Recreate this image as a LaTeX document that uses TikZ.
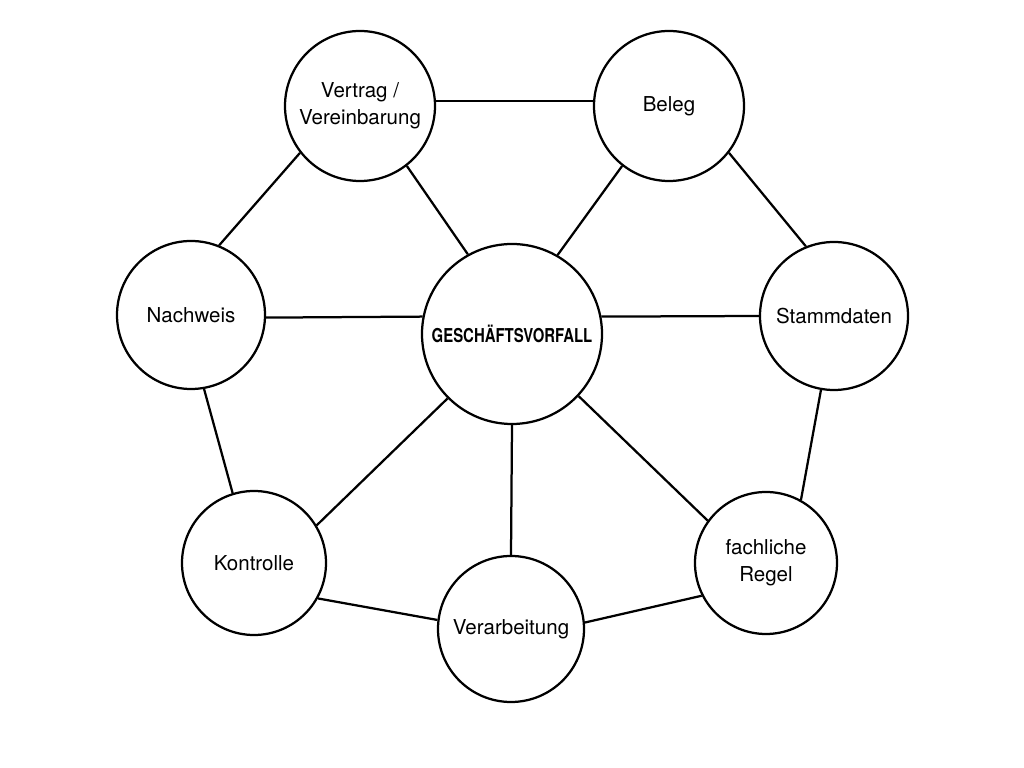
\documentclass[tikz,border=0pt]{standalone}
\usepackage{fontspec}
\setmainfont{TeX Gyre Heros}
\usepackage{tikz}
\tikzstyle{topic} = [circle, 
minimum size=3.7cm, 
inner sep=0pt,
line width=1.6pt,
text centered, 
align=center,
font=\fontsize{14.6}{19}\selectfont,
draw=black]
\tikzstyle{hub} = [topic, 
minimum size=4.5cm,
font=\fontsize{13.6}{15}\selectfont]
\tikzstyle{link} = [line width=1.6pt]

\begin{document}
\begin{tikzpicture}
			\useasboundingbox (0,0) rectangle (25.6,19.2);
			\node (hub)[hub] at (12.8,10.85) {\scalebox{0.78}[1]{\bfseries GESCHÄFTSVORFALL}};
			
			\node (vertrag)[topic, minimum size=3.75cm] at (9.0,16.55) {Vertrag /\\Vereinbarung};
			\node (beleg)[topic, minimum size=3.75cm] at (16.725,16.55) {Beleg};
			\node (nachweis)[topic] at (4.775,11.325) {Nachweis};
			\node (stamm)[topic] at (20.85,11.3) {Stammdaten};
			\node (kontrolle)[topic, minimum size=3.6cm] at (6.35,5.125) {Kontrolle};
			\node (verarb)[topic, minimum size=3.65cm] at (12.775,3.475) {Verarbeitung};
			\node (regel)[topic, minimum size=3.55cm] at (19.15,5.125) {fachliche\\Regel};
			
			% aussen
			\draw [link] (vertrag.4) -- (beleg.176);
			\draw [link] (vertrag.218) -- (nachweis.68);
			\draw [link] (beleg.322) -- (stamm.112);
			\draw [link] (nachweis.280) -- (kontrolle.107);
			\draw [link] (stamm.260) -- (regel.61);
			\draw [link] (kontrolle.331) -- (verarb.173);
			\draw [link] (verarb.5) -- (regel.207);
			
			% zur Mitte
			\draw [link] (vertrag.308) -- (hub.119);
			\draw [link] (beleg.232) -- (hub.60);
			\draw [link] (nachweis.358) -- (hub.169);
			\draw [link] (stamm.180) -- (hub.11);
			\draw [link] (kontrolle.31) -- (hub.225);
			\draw [link] (verarb.90) -- (hub.270);
			\draw [link] (regel.144) -- (hub.317);
		\end{tikzpicture}
\end{document}
